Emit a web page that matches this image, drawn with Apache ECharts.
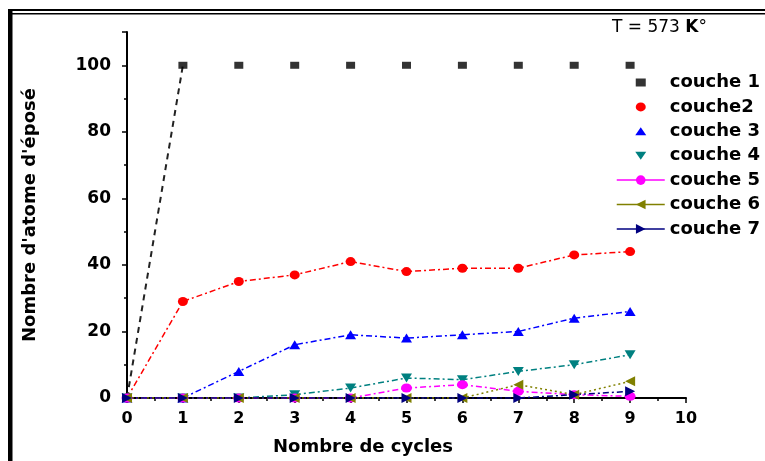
<!DOCTYPE html>
<html>
<head>
<meta charset="utf-8">
<script src="https://cdn.jsdelivr.net/npm/echarts@6/dist/echarts.min.js"></script>
<style>html,body{margin:0;padding:0;background:#fff}#c{width:765px;height:461px}</style>
</head>
<body>
<div id="c"></div>
<script>
// ---- data ----
var cycles  = [0, 1, 2, 3, 4, 5, 6, 7, 8, 9];
var couche1 = [0, 100, 100, 100, 100, 100, 100, 100, 100, 100];
var couche2 = [0, 29, 35, 37, 41, 38, 39, 39, 43, 44];
var couche3 = [0, 0, 8, 16, 19, 18, 19, 20, 24, 26];
var couche4 = [0, 0, 0, 1, 3, 6, 5.5, 8, 10, 13];
var couche5 = [0, 0, 0, 0, 0, 3, 4, 2, 1, 0.5];
var couche6 = [0, 0, 0, 0, 0, 0, 0, 4, 1, 5];
var couche7 = [0, 0, 0, 0, 0, 0, 0, 0, 1, 2];
var seriesNames = ['couche 1', 'couche2', 'couche 3', 'couche 4', 'couche 5', 'couche 6', 'couche 7'];
var xTitle = 'Nombre de cycles';
var yTitle = "Nombre d'atome d'éposé";

function pairs(ys) { return cycles.map(function (x, i) { return [x, ys[i]]; }); }

var F = 'DejaVu Sans';
var dashDot = [6, 3, 2, 3];
// legend icons padded to a 12px-high box so they keep their own size
var icRect = 'path://M0,0M0,12M0,2L10,2L10,10L0,10Z';
var icCircle = 'path://M0,0M0,12M0,6A5,4.5 0 1 1 10,6A5,4.5 0 1 1 0,6Z';
var icTri = 'path://M0,0M0,12M0,10L5.5,2L11,10Z';
var icTriDown = 'path://M0,0M0,12M0,2L11,2L5.5,10Z';

var chart = echarts.init(document.getElementById('c'), null, {renderer: 'canvas'});
chart.setOption({
  animation: false,
  backgroundColor: '#fff',
  grid: {left: 127, right: 79, top: 32, bottom: 63},
  graphic: [
    {type: 'rect', shape: {x: 8, y: 9, width: 757, height: 2}, style: {fill: '#000'}},
    {type: 'rect', shape: {x: 8, y: 13, width: 757, height: 1.5}, style: {fill: '#000'}},
    {type: 'rect', shape: {x: 8, y: 9, width: 4.5, height: 452}, style: {fill: '#000'}},
    {type: 'text', left: 612, top: 19, style: {
      text: '{r|T = 573 }{b|K}{r|°}',
      rich: {r: {fontFamily: F, fontSize: 17, fill: '#000'}, b: {fontFamily: F, fontSize: 17, fontWeight: 'bold', fill: '#000'}}
    }}
  ],
  legend: {
    orient: 'vertical', left: 611, top: 68.5,
    itemWidth: 48, itemHeight: 12, itemGap: 6.4,
    textStyle: {fontFamily: F, fontSize: 18, fontWeight: 'bold', color: '#000'},
    lineStyle: {type: 'solid', width: 1.5},
    data: [
      {name: seriesNames[0], icon: icRect},
      {name: seriesNames[1], icon: icCircle},
      {name: seriesNames[2], icon: icTri},
      {name: seriesNames[3], icon: icTriDown},
      {name: seriesNames[4]},
      {name: seriesNames[5]},
      {name: seriesNames[6]}
    ]
  },
  xAxis: {
    type: 'value', min: 0, max: 10, interval: 1,
    name: xTitle, nameLocation: 'middle', nameGap: 40,
    nameTextStyle: {fontFamily: F, fontSize: 18, fontWeight: 'bold', color: '#000', padding: [0, 87, 0, 0]},
    axisLine: {lineStyle: {color: '#000', width: 2}},
    axisTick: {inside: false, length: 5, lineStyle: {color: '#000', width: 1.5}},
    minorTick: {show: true, splitNumber: 2, length: 3, lineStyle: {color: '#000', width: 1.5}},
    axisLabel: {margin: 13, fontFamily: F, fontSize: 16, fontWeight: 'bold', color: '#000'},
    splitLine: {show: false}
  },
  yAxis: {
    type: 'value', min: 0, max: 110, interval: 20,
    name: yTitle, nameLocation: 'middle', nameGap: 88, nameRotate: 90,
    nameTextStyle: {fontFamily: F, fontSize: 18, fontWeight: 'bold', color: '#000'},
    axisLine: {lineStyle: {color: '#000', width: 2}},
    axisTick: {inside: false, length: 5, lineStyle: {color: '#000', width: 1.5}},
    minorTick: {show: true, splitNumber: 2, length: 3, lineStyle: {color: '#000', width: 1.5}},
    axisLabel: {margin: 16, fontFamily: F, fontSize: 17, fontWeight: 'bold', color: '#000', showMaxLabel: false},
    splitLine: {show: false}
  },
  series: [
    {name: 'couche 1 (trait)', type: 'line', data: pairs(couche1).slice(0, 2), showSymbol: false,
      lineStyle: {color: '#222', width: 2, type: [6, 5]}, z: 1, silent: true},
    {name: seriesNames[0], type: 'scatter', data: pairs(couche1), symbol: 'rect', symbolSize: [9, 7],
      itemStyle: {color: '#000'}},
    {name: seriesNames[1], type: 'line', data: pairs(couche2), symbol: 'circle', symbolSize: [10, 9],
      itemStyle: {color: '#ff0000'}, lineStyle: {color: '#ff0000', width: 1.5, type: dashDot}},
    {name: seriesNames[2], type: 'line', data: pairs(couche3), symbol: 'triangle', symbolSize: [11, 9],
      itemStyle: {color: '#0000ff'}, lineStyle: {color: '#0000ff', width: 1.5, type: dashDot}},
    {name: seriesNames[3], type: 'line', data: pairs(couche4), symbol: 'triangle', symbolRotate: 180, symbolSize: [11, 9],
      itemStyle: {color: '#008080'}, lineStyle: {color: '#008080', width: 1.5, type: dashDot}},
    {name: seriesNames[4], type: 'line', data: pairs(couche5), symbol: 'circle', symbolSize: [11, 9],
      itemStyle: {color: '#ff00ff'}, lineStyle: {color: '#ff00ff', width: 1.5, type: dashDot}},
    {name: seriesNames[5], type: 'line', data: pairs(couche6), symbol: 'triangle', symbolRotate: 90, symbolSize: [10, 10],
      itemStyle: {color: '#808000'}, lineStyle: {color: '#808000', width: 1.5, type: [2, 3]}},
    {name: seriesNames[6], type: 'line', data: pairs(couche7), symbol: 'triangle', symbolRotate: -90, symbolSize: [10, 10],
      itemStyle: {color: '#000080'}, lineStyle: {color: '#000080', width: 1.5, type: dashDot}}
  ]
});
</script>
</body>
</html>
